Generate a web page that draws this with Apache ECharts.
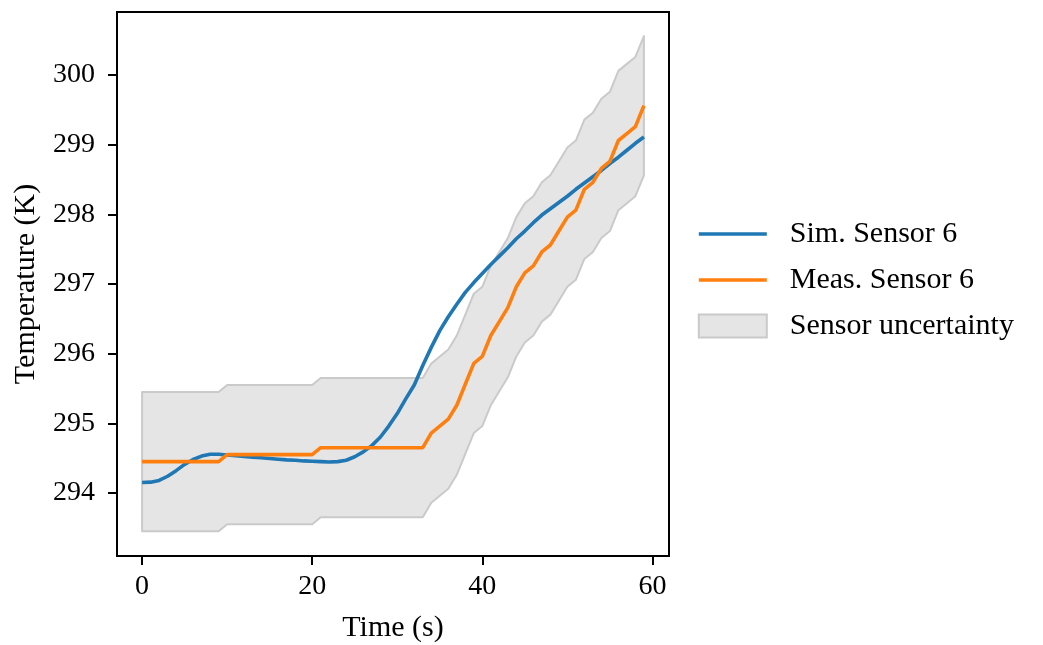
<!DOCTYPE html>
<html>
<head>
<meta charset="utf-8">
<script src="https://cdn.jsdelivr.net/npm/echarts@6/dist/echarts.min.js"></script>
<style>
html,body{margin:0;padding:0;background:#fff;}
#chart{width:1043px;height:645px;}
</style>
</head>
<body>
<div id="chart"></div>
<script>
const time = [0,1,2,3,4,5,6,7,8,9,10,11,12,13,14,15,16,17,18,19,20,21,22,23,24,25,26,27,28,29,30,31,32,33,34,35,36,37,38,39,40,41,42,43,44,45,46,47,48,49,50,51,52,53,54,55,56,57,58,59];
const simSensor6 = [294.15,294.155,294.18,294.24,294.32,294.41,294.48,294.53,294.555,294.555,
  294.545,294.535,294.525,294.515,294.505,294.495,294.485,294.475,294.47,294.46,
  294.455,294.45,294.445,294.45,294.47,294.52,294.59,294.68,294.80,294.96,
  295.14,295.35,295.55,295.83,296.09,296.33,296.53,296.71,296.88,297.02,
  297.15,297.28,297.40,297.52,297.65,297.76,297.88,297.99,298.08,298.17,
  298.26,298.36,298.45,298.54,298.63,298.73,298.82,298.92,299.02,299.11];
const measSensor6 = [294.45,294.45,294.45,294.45,294.45,294.45,294.45,294.45,294.45,294.45,
  294.55,294.55,294.55,294.55,294.55,294.55,294.55,294.55,294.55,294.55,
  294.55,294.65,294.65,294.65,294.65,294.65,294.65,294.65,294.65,294.65,
  294.65,294.65,294.65,294.65,294.86,294.96,295.06,295.26,295.56,295.86,
  295.96,296.26,296.46,296.66,296.96,297.16,297.26,297.46,297.56,297.76,
  297.96,298.06,298.36,298.46,298.66,298.76,299.06,299.16,299.26,299.56];
const uncertaintyUpper = [295.45,295.45,295.45,295.45,295.45,295.45,295.45,295.45,295.45,295.45,
  295.55,295.55,295.55,295.55,295.55,295.55,295.55,295.55,295.55,295.55,
  295.55,295.65,295.65,295.65,295.65,295.65,295.65,295.65,295.65,295.65,
  295.65,295.65,295.65,295.65,295.86,295.96,296.06,296.26,296.56,296.86,
  296.96,297.26,297.46,297.66,297.96,298.16,298.26,298.46,298.56,298.76,
  298.96,299.06,299.36,299.46,299.66,299.76,300.06,300.16,300.26,300.56];
const uncertaintyLower = [293.45,293.45,293.45,293.45,293.45,293.45,293.45,293.45,293.45,293.45,
  293.55,293.55,293.55,293.55,293.55,293.55,293.55,293.55,293.55,293.55,
  293.55,293.65,293.65,293.65,293.65,293.65,293.65,293.65,293.65,293.65,
  293.65,293.65,293.65,293.65,293.86,293.96,294.06,294.26,294.56,294.86,
  294.96,295.26,295.46,295.66,295.96,296.16,296.26,296.46,296.56,296.76,
  296.96,297.06,297.36,297.46,297.66,297.76,298.06,298.16,298.26,298.56];
const xTicks = [0,20,40,60];
const yTicks = [294,295,296,297,298,299,300];
const seriesNames = ['Sim. Sensor 6','Meas. Sensor 6','Sensor uncertainty'];

const FONT = "'Liberation Serif','DejaVu Serif',serif";
const chart = echarts.init(document.getElementById('chart'), null, {renderer:'canvas'});
const option = {
  animation: false,
  backgroundColor: '#fff',
  grid: {left:117, top:12, width:552, height:544, outerBoundsMode:'none', containLabel:false,
         show:true, borderColor:'#000', borderWidth:2, backgroundColor:'transparent'},
  xAxis: {
    type:'value', min:-2.95, max:61.95,
    name:'Time (s)', nameLocation:'middle', nameGap:57,
    nameTextStyle:{fontFamily:FONT, fontSize:30, color:'#000'},
    axisLine:{show:false, onZero:false},
    splitLine:{show:false},
    axisTick:{show:true, customValues:xTicks, length:9, lineStyle:{color:'#000', width:2}},
    axisLabel:{customValues:xTicks, fontFamily:FONT, fontSize:28, color:'#000', margin:17}
  },
  yAxis: {
    type:'value', min:293.095, max:300.905,
    name:'Temperature (K)', nameLocation:'middle', nameGap:76,
    nameTextStyle:{fontFamily:FONT, fontSize:30, color:'#000'},
    axisLine:{show:false, onZero:false},
    splitLine:{show:false},
    axisTick:{show:true, customValues:yTicks, length:9, lineStyle:{color:'#000', width:2}},
    axisLabel:{customValues:yTicks, fontFamily:FONT, fontSize:28, color:'#000', margin:22}
  },
  legend: {
    orient:'vertical', left:697, top:219, padding:0, itemWidth:68, itemHeight:23, itemGap:16,
    textStyle:{fontFamily:FONT, fontSize:30, color:'#000', padding:[0,0,0,18]},
    data:[
      {name:seriesNames[0], itemStyle:{opacity:0}, lineStyle:{width:3.6, color:'#1f77b4'}},
      {name:seriesNames[1], itemStyle:{opacity:0}, lineStyle:{width:3.6, color:'#ff7f0e'}},
      {name:seriesNames[2], icon:'rect', itemStyle:{color:'#e5e5e5', borderColor:'#cacaca', borderWidth:2, opacity:1}}
    ]
  },
  series: [
    {
      type:'custom', name:seriesNames[2], silent:true, z:1,
      itemStyle:{color:'#e5e5e5'},
      data:[[time[0], uncertaintyLower[0]]],
      renderItem: function(params, api){
        const pts = [];
        for (let i=0;i<time.length;i++) pts.push(api.coord([time[i], uncertaintyUpper[i]]));
        for (let i=time.length-1;i>=0;i--) pts.push(api.coord([time[i], uncertaintyLower[i]]));
        return {type:'polygon', shape:{points:pts}, style:{fill:'#e5e5e5', stroke:'#cacaca', lineWidth:2, lineJoin:'round'}};
      }
    },
    {
      type:'line', name:seriesNames[0], z:2, symbol:'none', showSymbol:false,
      color:'#1f77b4',
      lineStyle:{color:'#1f77b4', width:3.6},
      data: time.map((t,i)=>[t, simSensor6[i]])
    },
    {
      type:'line', name:seriesNames[1], z:3, symbol:'none', showSymbol:false,
      color:'#ff7f0e',
      lineStyle:{color:'#ff7f0e', width:3.6},
      data: time.map((t,i)=>[t, measSensor6[i]])
    }
  ]
};
chart.setOption(option);
</script>
</body>
</html>
